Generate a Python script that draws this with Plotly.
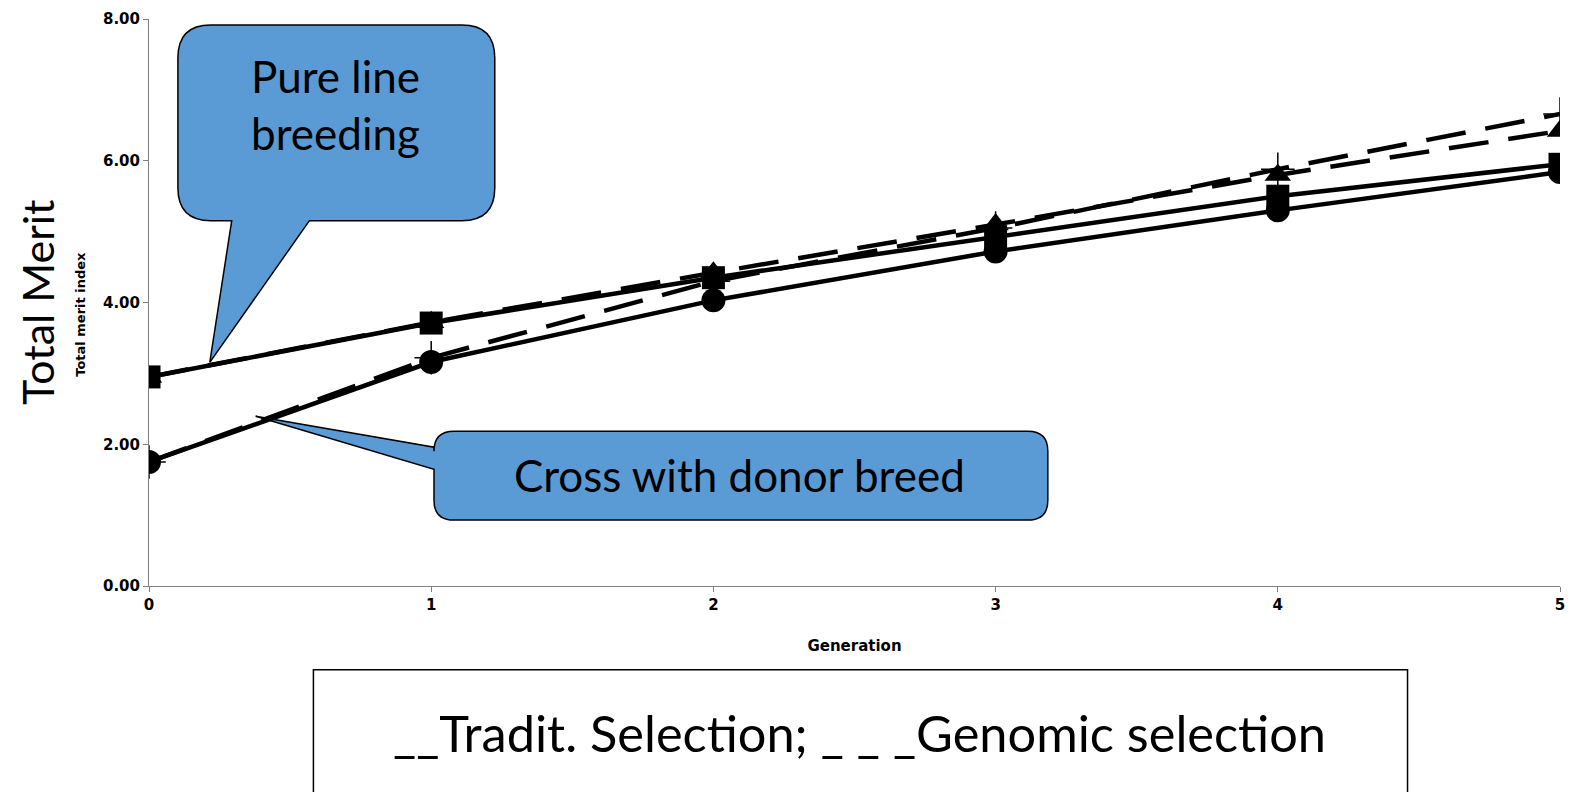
import plotly.graph_objects as go

# ---- data ----
generations = [0, 1, 2, 3, 4, 5]
pure_trad = [2.95, 3.71, 4.35, 4.93, 5.50, 5.95]
pure_genomic = [2.95, 3.72, 4.42, 5.10, 5.80, 6.42]
cross_trad = [1.75, 3.16, 4.03, 4.72, 5.30, 5.84]
cross_genomic = [1.75, 3.22, 4.30, 5.05, 5.88, 6.66]
y_ticks = [0, 2, 4, 6, 8]

W, H = 1575, 792
L, R, T, B = 149, 10, 18, 206
PW, PH = W - L - R, H - T - B


def px(x):
    return (x - L) / PW


def py(y):
    return (H - B - y) / PH


def path(points):
    s = ""
    for p in points:
        if p[0] == "Q":
            (cx, cy), (x, y) = p[1], p[2]
            s += f"Q{px(cx):.5f},{py(cy):.5f} {px(x):.5f},{py(y):.5f} "
        else:
            x, y = p[1]
            s += f"{p[0]}{px(x):.5f},{py(y):.5f} "
    return s + "Z"


BLUE = "#5B9BD5"
fig = go.Figure()

line_w = 4.5
dash = "40px,20px"
fig.add_trace(go.Scatter(x=generations, y=pure_genomic, mode="lines+markers",
                         line=dict(color="black", width=line_w, dash=dash),
                         marker=dict(symbol="triangle-up", size=23, color="black"),
                         name="Pure line, genomic"))
fig.add_trace(go.Scatter(x=generations, y=cross_genomic, mode="lines+markers",
                         line=dict(color="black", width=line_w, dash=dash),
                         marker=dict(symbol="cross-thin", size=24, color="black",
                                     line=dict(color="black", width=1.5)),
                         name="Cross, genomic"))
fig.add_trace(go.Scatter(x=generations, y=pure_trad, mode="lines+markers",
                         line=dict(color="black", width=line_w),
                         marker=dict(symbol="square", size=23, color="black"),
                         name="Pure line, traditional"))
fig.add_trace(go.Scatter(x=generations, y=cross_trad, mode="lines+markers",
                         line=dict(color="black", width=line_w),
                         marker=dict(symbol="circle", size=24, color="black"),
                         name="Cross, traditional"))

tick_font = dict(family="DejaVu Sans", size=15, color="black")

fig.update_layout(
    width=W, height=H,
    margin=dict(l=L, r=R, t=T, b=B),
    paper_bgcolor="white", plot_bgcolor="white",
    showlegend=False,
    xaxis=dict(range=[0, 5], tickvals=generations, ticktext=[f"<b>{g}</b>" for g in generations],
               showgrid=False, zeroline=False, showline=True, linecolor="#808080", linewidth=1,
               ticks="outside", ticklen=5, tickcolor="#808080", tickfont=tick_font,
               title=dict(text="<b>Generation</b>", font=dict(family="DejaVu Sans", size=15, color="black"),
                          standoff=27)),
    yaxis=dict(range=[0, 8], tickvals=y_ticks, ticktext=[f"<b>{v:.2f}</b>" for v in y_ticks],
               showgrid=False, zeroline=False, showline=True, linecolor="#808080", linewidth=1,
               ticks="outside", ticklen=5, tickcolor="#808080", tickfont=tick_font),
)

shapes = []
# Pure line callout
r1 = 33
x0, y0, x1, y1 = 178, 24, 496, 220
shapes.append(dict(type="path", xref="paper", yref="paper", layer="below",
                   fillcolor=BLUE, line=dict(color="black", width=1.5),
                   path=path([("M", (x0 + r1, y0)), ("L", (x1 - r1, y0)), ("Q", (x1, y0), (x1, y0 + r1)),
                              ("L", (x1, y1 - r1)), ("Q", (x1, y1), (x1 - r1, y1)),
                              ("L", (310, y1)), ("L", (210, 362)), ("L", (232, y1)),
                              ("L", (x0 + r1, y1)), ("Q", (x0, y1), (x0, y1 - r1)),
                              ("L", (x0, y0 + r1)), ("Q", (x0, y0), (x0 + r1, y0))])))
# Cross callout
r2 = 20
x0, y0, x1, y1 = 435, 431, 1051, 520
shapes.append(dict(type="path", xref="paper", yref="paper", layer="below",
                   fillcolor=BLUE, line=dict(color="black", width=1.5),
                   path=path([("M", (x0 + r2, y0)), ("L", (x1 - r2, y0)), ("Q", (x1, y0), (x1, y0 + r2)),
                              ("L", (x1, y1 - r2)), ("Q", (x1, y1), (x1 - r2, y1)),
                              ("L", (x0 + r2, y1)), ("Q", (x0, y1), (x0, y1 - r2)),
                              ("L", (x0, 469)), ("L", (256, 416)), ("L", (x0, 447)),
                              ("L", (x0, y0 + r2)), ("Q", (x0, y0), (x0 + r2, y0))])))
# Legend box
shapes.append(dict(type="rect", xref="paper", yref="paper", layer="above",
                   x0=px(314), x1=px(1412), y0=py(800), y1=py(670),
                   line=dict(color="black", width=1.5), fillcolor="rgba(0,0,0,0)"))
fig.update_layout(shapes=shapes)

big_font = "Lato, Carlito, Open Sans, sans-serif"
common = dict(xref="paper", yref="paper", showarrow=False, xanchor="center", yanchor="middle")
annotations = [
    dict(text="Pure line<br>breeding", x=px(336), y=py(104), align="center",
         font=dict(family=big_font, size=44, color="black"), **common),
    dict(text="Cross with donor breed", x=px(742), y=py(475),
         font=dict(family=big_font, size=44, color="black"), **common),
    dict(text="__Tradit. Selection; _ _ _Genomic selection", x=px(862), y=py(733),
         font=dict(family=big_font, size=50.5, color="black"), **common),
    dict(text="Total Merit", x=px(37), y=py(302), textangle=-90,
         font=dict(family=big_font, size=43, color="black"), **common),
    dict(text="<b>Total merit index</b>", x=px(80), y=py(314), textangle=-90,
         font=dict(family="DejaVu Sans", size=13, color="black"), **common),
]
fig.update_layout(annotations=annotations)

fig.write_html("out.html", config={"displayModeBar": False},
               post_script="document.body.style.margin='0';")
